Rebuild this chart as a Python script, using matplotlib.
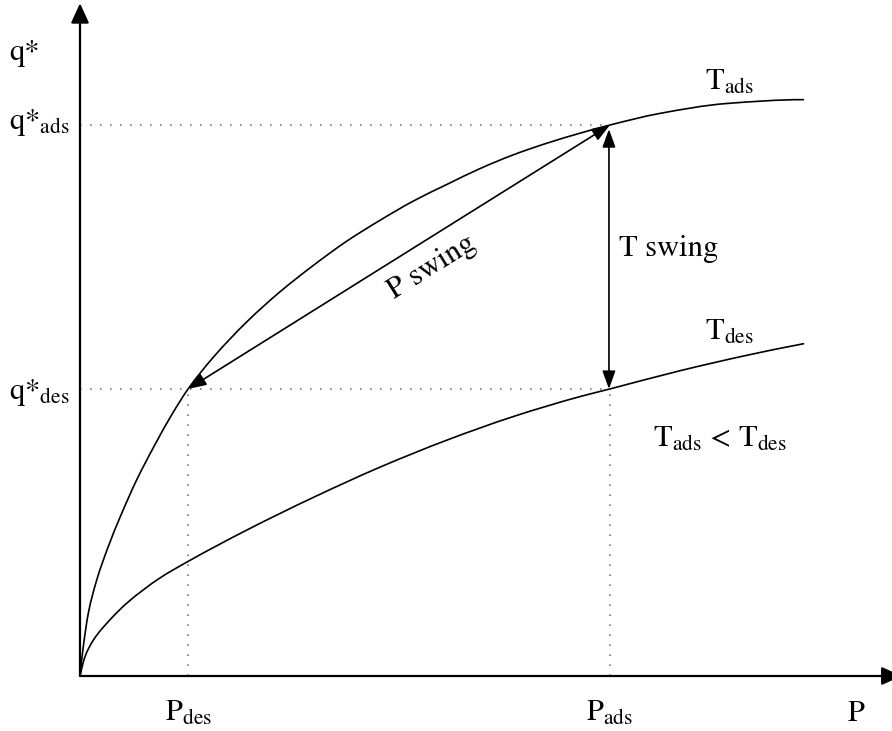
import matplotlib
matplotlib.use("Agg")
import numpy as np
import matplotlib.pyplot as plt
from matplotlib.path import Path
from matplotlib.patches import PathPatch

plt.rcParams["font.family"] = ["STIXGeneral", "DejaVu Serif"]
plt.rcParams["mathtext.fontset"] = "stix"

# Isotherm at the adsorption temperature (pressure, loading)
p_ads_curve = [0.0, 0.062, 0.157, 0.315, 0.534, 0.755, 1.07, 1.415, 1.73, 2.04,
               2.52, 3.15, 3.77, 4.40, 5.03, 5.66, 6.29, 6.92, 7.55, 8.18,
               8.81, 9.43, 10.0, 10.94, 12.20, 13.65]
q_ads_curve = [0.0, 0.53, 1.14, 1.74, 2.35, 2.88, 3.56, 4.20, 4.74, 5.21,
               5.79, 6.43, 6.97, 7.45, 7.89, 8.27, 8.62, 8.92, 9.21, 9.46,
               9.67, 9.85, 10.0, 10.21, 10.39, 10.46]

# Isotherm at the desorption temperature (pressure, loading)
p_des_curve = [0.0, 0.094, 0.251, 0.566, 0.881, 1.51, 2.04, 3.15, 4.40, 5.66,
               6.92, 8.18, 9.43, 10.0, 11.32, 12.58, 13.65]
q_des_curve = [0.0, 0.35, 0.65, 1.02, 1.32, 1.78, 2.08, 2.65, 3.24, 3.79,
               4.28, 4.71, 5.07, 5.21, 5.54, 5.82, 6.03]

# Operating points
P_DES, P_ADS = 2.04, 10.0
Q_DES, Q_ADS = 5.21, 10.0

FS = 22
BLACK = "black"
DOT = "#7a7a7a"


def smooth_path(x, y):
    """Monotone cubic (Fritsch-Carlson) Bezier path through the given points."""
    x = np.asarray(x, float)
    y = np.asarray(y, float)
    h = np.diff(x)
    d = np.diff(y) / h
    n = len(x)
    m = np.zeros(n)
    for k in range(1, n - 1):
        if d[k - 1] * d[k] <= 0:
            m[k] = 0.0
        else:
            w1 = 2 * h[k] + h[k - 1]
            w2 = h[k] + 2 * h[k - 1]
            m[k] = (w1 + w2) / (w1 / d[k - 1] + w2 / d[k])
    m[0] = ((2 * h[0] + h[1]) * d[0] - h[0] * d[1]) / (h[0] + h[1])
    m[-1] = ((2 * h[-1] + h[-2]) * d[-1] - h[-1] * d[-2]) / (h[-1] + h[-2])
    verts = [(x[0], y[0])]
    codes = [Path.MOVETO]
    for k in range(n - 1):
        verts += [(x[k] + h[k] / 3, y[k] + m[k] * h[k] / 3),
                  (x[k + 1] - h[k] / 3, y[k + 1] - m[k + 1] * h[k] / 3),
                  (x[k + 1], y[k + 1])]
        codes += [Path.CURVE4] * 3
    return Path(verts, codes)


fig = plt.figure(figsize=(8.92, 7.31), dpi=100)
ax = fig.add_axes([0, 0, 1, 1])
ax.set_xlim(-80 / 53, 812 / 53)
ax.set_ylim(-55 / 55.1, 676 / 55.1)
ax.set_axis_off()

# Coordinate axes with arrow heads
axis_arrow = dict(arrowstyle="-|>,head_length=12,head_width=5.5",
                  mutation_scale=1, lw=1.6, color=BLACK, shrinkA=0, shrinkB=0)
ax.annotate("", xy=(15.5, 0), xytext=(0, 0), arrowprops=axis_arrow,
            annotation_clip=False)
ax.annotate("", xy=(0, 12.21), xytext=(0, 0), arrowprops=axis_arrow,
            annotation_clip=False)

# Isotherms
for px, qy in ((p_ads_curve, q_ads_curve), (p_des_curve, q_des_curve)):
    ax.add_patch(PathPatch(smooth_path(px, qy), facecolor="none",
                           edgecolor=BLACK, lw=1.2, capstyle="round"))

# Guide lines
dot_kw = dict(color=DOT, lw=1.2, linestyle=(0, (1, 5)))
ax.plot([0, P_ADS], [Q_ADS, Q_ADS], **dot_kw)
ax.plot([0, P_ADS], [Q_DES, Q_DES], **dot_kw)
ax.plot([P_DES, P_DES], [0, Q_DES], **dot_kw)
ax.plot([P_ADS, P_ADS], [0, Q_DES], **dot_kw)

# Swing arrows
swing_arrow = dict(arrowstyle="<|-|>,head_length=11,head_width=4",
                   mutation_scale=1, lw=1.2, color=BLACK, shrinkA=0, shrinkB=0)
ax.annotate("", xy=(P_DES, Q_DES), xytext=(P_ADS, Q_ADS), arrowprops=swing_arrow)
t_arrow = dict(swing_arrow, shrinkB=3)
ax.annotate("", xy=(P_ADS - 0.02, Q_ADS), xytext=(P_ADS - 0.02, Q_DES),
            arrowprops=t_arrow)

# Labels
ax.text(-1.34, 11.18, "q*", fontsize=FS, ha="left", va="baseline")
ax.text(-1.34, 9.93, r"q*$_{\mathrm{ads}}$", fontsize=FS, ha="left", va="baseline")
ax.text(-1.34, 5.02, r"q*$_{\mathrm{des}}$", fontsize=FS, ha="left", va="baseline")

ax.text(P_DES, -0.82, r"P$_{\mathrm{des}}$", fontsize=FS, ha="center", va="baseline")
ax.text(P_ADS, -0.82, r"P$_{\mathrm{ads}}$", fontsize=FS, ha="center", va="baseline")
ax.text(14.64, -0.82, "P", fontsize=FS, ha="center", va="baseline")

ax.text(12.26, 10.63, r"T$_{\mathrm{ads}}$", fontsize=FS, ha="center", va="baseline")
ax.text(12.26, 6.10, r"T$_{\mathrm{des}}$", fontsize=FS, ha="center", va="baseline")
ax.text(12.08, 4.16, r"T$_{\mathrm{ads}}$ < T$_{\mathrm{des}}$", fontsize=FS,
        ha="center", va="baseline")

ax.text(11.1, 7.62, "T swing", fontsize=FS, ha="center", va="baseline")
ax.text(6.64, 7.42, "P swing", fontsize=FS, ha="center", va="center",
        rotation=32, rotation_mode="anchor")

fig.savefig("out.png", dpi=100)
